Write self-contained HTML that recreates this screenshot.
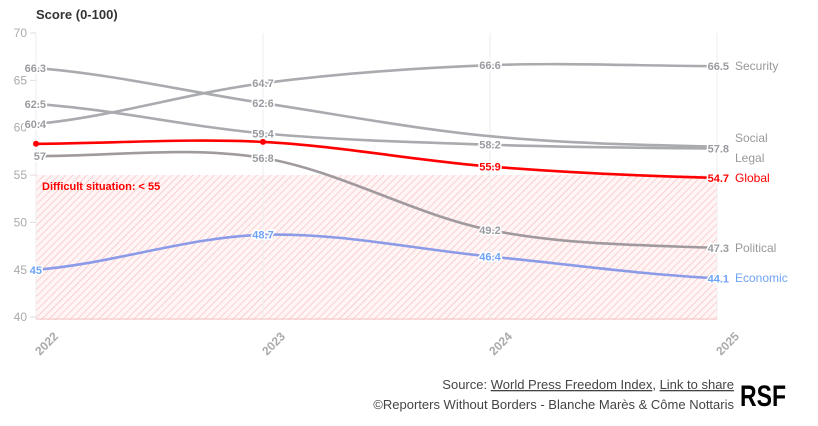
<!DOCTYPE html>
<html><head><meta charset="utf-8"><style>
body{margin:0;background:#fff;width:818px;height:421px;overflow:hidden;font-family:"Liberation Sans",sans-serif}
svg text{font-family:"Liberation Sans",sans-serif}
</style></head><body>
<svg id="s" width="818" height="421" xmlns="http://www.w3.org/2000/svg">
<defs><pattern id="h" width="5" height="5" patternUnits="userSpaceOnUse" patternTransform="rotate(-45)"><rect width="5" height="5" fill="#fff5f5"/><line x1="0" y1="0" x2="5" y2="0" stroke="#f8b8bc" stroke-width="1.2"/></pattern></defs>
<text x="36" y="19" font-size="13" font-weight="bold" fill="#333">Score (0-100)</text>
<rect x="36" y="175" width="681" height="145" fill="url(#h)"/>
<g id="grid"></g>
<text x="42" y="190" font-size="11" font-weight="bold" fill="#f00">Difficult situation: &lt; 55</text>
<g id="lines"></g>
<g font-size="12" fill="#444" text-anchor="end">
<text x="734" y="389" font-size="13">Source: <tspan text-decoration="underline">World Press Freedom Index</tspan>, <tspan text-decoration="underline">Link to share</tspan></text>
<text x="734" y="409" font-size="13">©Reporters Without Borders - Blanche Marès &amp; Côme Nottaris</text>
</g>
<text x="740" y="406" font-size="30" font-weight="bold" fill="#000" textLength="46" lengthAdjust="spacingAndGlyphs">RSF</text>
</svg>
<script>
var X=[36,263,490,717];function Y(v){return 33+(70-v)*9.47}
var g='';
[70,65,60,55,50,45,40].forEach(function(v){var y=Y(v);g+='<text x="27" y="'+(y+4)+'" font-size="12" fill="#aaa" text-anchor="end">'+v+'</text><line x1="30" x2="36" y1="'+y+'" y2="'+y+'" stroke="#ddd"/>';});
X.forEach(function(x,i){g+='<line x1="'+x+'" x2="'+x+'" y1="33" y2="320" stroke="#eee"/><text transform="translate('+(x+4)+',356) rotate(-45)" font-size="12" font-weight="bold" fill="#aaa">'+(2022+i)+'</text>';});
g+='<line x1="36" x2="717" y1="319" y2="319" stroke="#f4c4c4"/>';
document.getElementById('grid').innerHTML=g;
function path(v){var p=v.map(function(a,i){return [X[i],Y(a)]});var n=p.length,m=[];
for(var i=0;i<n;i++){var a=p[Math.max(0,i-1)],b=p[Math.min(n-1,i+1)];m.push((b[1]-a[1])/(b[0]-a[0])*(i==0||i==n-1?0.5:1));}
var s='M'+p[0];for(i=0;i<n-1;i++){var h=(p[i+1][0]-p[i][0])/3;s+=' C'+(p[i][0]+h)+','+(p[i][1]+m[i]*h)+' '+(p[i+1][0]-h)+','+(p[i+1][1]-m[i+1]*h)+' '+p[i+1];}return s;}
var S=[
{v:[60.4,64.7,66.6,66.5],c:'#aaabaf',lab:['60.4','64.7','66.6','66.5'],n:'Security',ny:66},
{v:[66.3,62.6,59.1,58.0],c:'#aaabaf',lab:['66.3','62.6','',''],n:'Social',ny:138},
{v:[62.5,59.4,58.2,57.8],c:'#aaabaf',lab:['62.5','59.4','58.2','57.8'],n:'Legal',ny:158},
{v:[57,56.8,49.2,47.3],c:'#a09a9e',lab:['57','56.8','49.2','47.3'],n:'Political',ny:248},
{v:[45,48.7,46.4,44.1],c:'#8b9be8',lc:'#6fa3f7',lab:['45','48.7','46.4','44.1'],n:'Economic',ny:278},
{v:[58.3,58.5,55.9,54.7],c:'#ff0000',lab:['','','55.9','54.7'],n:'Global',ny:178,red:1}];
var L='';
S.forEach(function(s){L+='<path d="'+path(s.v)+'" fill="none" stroke="'+s.c+'" stroke-width="2.6"/>';});
S.forEach(function(s){var lc=s.lc||s.c;if(!s.red&&!s.lc)lc='#9a9ba0';
s.v.forEach(function(v,i){if(!s.lab[i])return;var x=X[i],y=Y(v)+4;var anc=i==0?'end':(i==3?'end':'middle');var xx=i==0?x+10:(i==3?x+12:x);if(i==0&&s.lab[i]=='45')xx=x+6;
L+='<text x="'+xx+'" y="'+y+'" font-size="11" font-weight="bold" fill="'+lc+'" text-anchor="'+anc+'" stroke="#fff" stroke-width="3" paint-order="stroke">'+s.lab[i]+'</text>';});
L+='<text x="735" y="'+(s.ny+4)+'" font-size="12" fill="'+(s.red?'#f00':(s.lc||'#999'))+'">'+s.n+'</text>';});
L+='<circle cx="36" cy="'+Y(58.3)+'" r="3" fill="#f00"/><circle cx="263" cy="'+Y(58.5)+'" r="3" fill="#f00"/>';
document.getElementById('lines').innerHTML=L;
</script>
</body></html>
